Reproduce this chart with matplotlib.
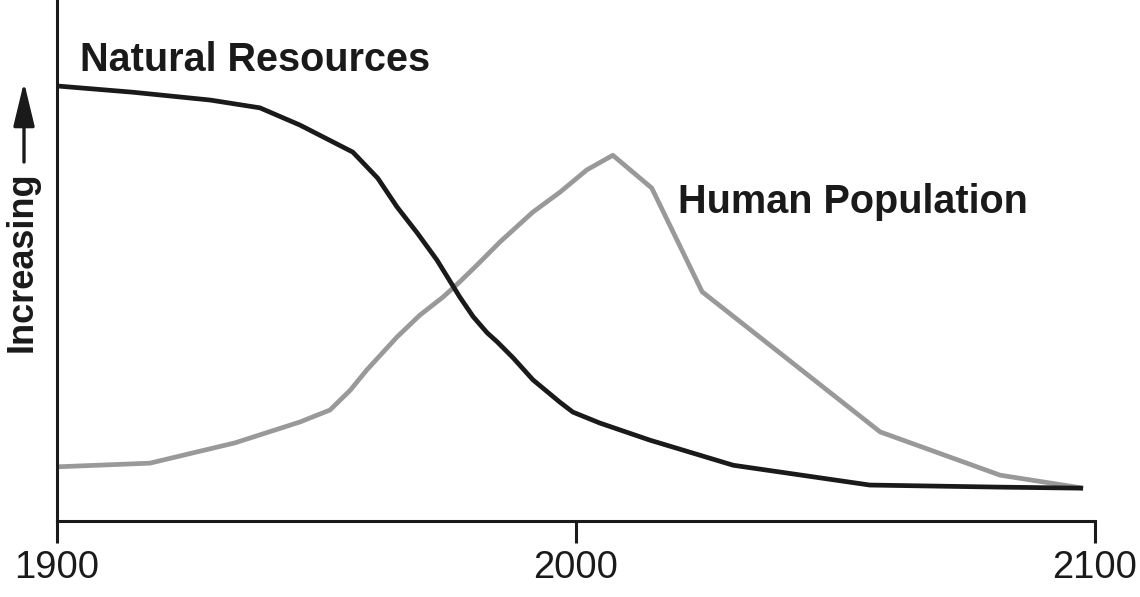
import matplotlib
matplotlib.use('Agg')
import matplotlib.pyplot as plt

# values (x = year, y = relative amount, 0-100)
resource_years = [1900, 1914.6, 1929.5, 1939.1, 1946.8, 1957.0, 1961.8, 1965.5, 1969.4,
                  1973.2, 1977.6, 1980.2, 1982.9, 1984.8, 1987.9, 1991.7, 1996.9, 1999.4,
                  2004.6, 2014.3, 2030.3, 2056.6, 2081.7, 2097.7]
resource_vals = [83.5, 82.3, 80.8, 79.3, 76.0, 70.8, 65.8, 60.3, 55.3,
                 50.1, 43.0, 39.2, 36.1, 34.4, 31.3, 27.1, 22.8, 20.9,
                 18.8, 15.5, 10.7, 6.9, 6.5, 6.3]

pop_years = [1900, 1917.9, 1934.3, 1946.8, 1952.6, 1956.5, 1959.7, 1965.5, 1969.9,
             1974.4, 1977.6, 1980.9, 1985.4, 1991.7, 1996.9, 2002.1, 2007.1, 2014.6,
             2024.3, 2058.6, 2081.7, 2097.7]
pop_vals = [10.4, 11.1, 15.0, 19.0, 21.3, 25.1, 29.0, 35.3, 39.5,
            43.0, 45.9, 49.1, 53.6, 59.3, 63.1, 67.4, 70.2, 63.9,
            44.0, 17.1, 8.8, 6.3]

xticks = [1900, 2000, 2100]

plt.rcParams['font.family'] = ['Liberation Sans', 'DejaVu Sans']

fig = plt.figure(figsize=(11.4, 5.97), dpi=100)
ax = fig.add_axes([57 / 1140, 76 / 597, 1038 / 1140, 521 / 597])

ax.plot(pop_years, pop_vals, color='#999999', linewidth=3.4, solid_joinstyle='round',
        solid_capstyle='butt')
ax.plot(resource_years, resource_vals, color='#1a1a1a', linewidth=3.4,
        solid_joinstyle='round', solid_capstyle='butt')

ax.set_xlim(1900, 2100)
ax.set_ylim(0, 100)
ax.set_xticks(xticks)
ax.set_xticklabels([str(t) for t in xticks])
ax.set_yticks([])
ax.tick_params(axis='x', direction='out', length=16, width=2.2, color='#1a1a1a',
               labelsize=27.5, pad=5, labelcolor='#1a1a1a')
for side in ['top', 'right']:
    ax.spines[side].set_visible(False)
for side in ['left', 'bottom']:
    ax.spines[side].set_linewidth(2.2)
    ax.spines[side].set_color('#1a1a1a')

ax.text(1904.4, 86.4, 'Natural Resources', fontsize=28.5, fontweight='bold',
        color='#1a1a1a', va='baseline', ha='left')
ax.text(2019.7, 59.1, 'Human Population', fontsize=28.5, fontweight='bold',
        color='#1a1a1a', va='baseline', ha='left')

# vertical label with arrow
fig.text(22 / 1140, 1 - 262 / 597, 'Increasing', rotation=90, fontsize=26,
         fontweight='bold', color='#1a1a1a', ha='center', va='center')
fig.patches.append(matplotlib.patches.FancyArrowPatch(
    (24 / 1140, 1 - 162 / 597), (24 / 1140, 1 - 82 / 597),
    transform=fig.transFigure, arrowstyle='-|>,head_length=2.7,head_width=0.65',
    mutation_scale=10, linewidth=2.4, color='#1a1a1a', shrinkA=0, shrinkB=0))

fig.savefig('out.png', dpi=100)
